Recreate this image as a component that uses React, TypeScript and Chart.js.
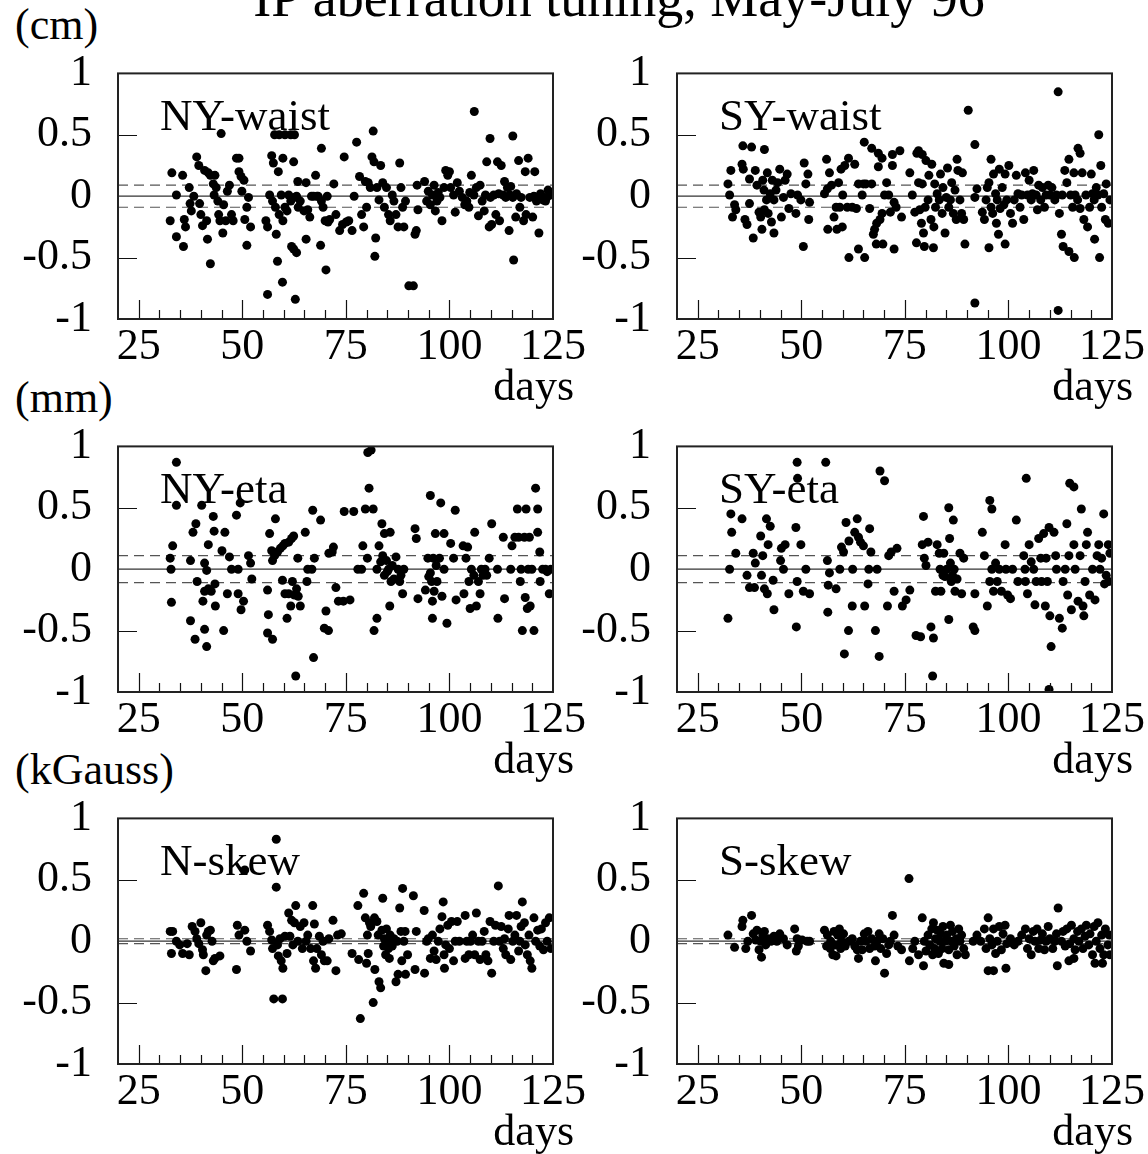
import React, { useEffect, useRef } from "react";
import { Chart, registerables } from "chart.js";

Chart.register(...registerables);

// ---------- axes ----------
const X_MIN = 20;
const X_MAX = 125;
const Y_MIN = -1;
const Y_MAX = 1;
const xTickValues = [25, 50, 75, 100, 125];
const xMajorInnerTicks = [25, 50, 75, 100];
const xMinorInnerTicks = [30, 35, 40, 45, 55, 60, 65, 70, 80, 85, 90, 95, 105, 110, 115, 120];
const yTickValues = [-1, -0.5, 0, 0.5, 1];
const yInnerTicks = [-0.5, 0.5];

// ---------- text ----------
const chartTitle = "IP aberration tuning, May-July 96";
const rowUnits = ["(cm)", "(mm)", "(kGauss)"];
const panelNames = ["NY-waist", "SY-waist", "NY-eta", "SY-eta", "N-skew", "S-skew"];
const xAxisName = "days";

// ---------- tolerance bands (dashed lines at +/- band) ----------
const bandHalfWidths = [0.09, 0.09, 0.11, 0.11, 0.02, 0.02];

// ---------- data: [day, value] ----------
const nyWaist: [number, number][] = [
  [106, 0.69], [44.9, 0.51], [57.8, 0.5], [58.9, 0.5], [60.3, 0.5], [61.7, 0.5], [62.6, 0.5], [81.6, 0.53], [77.6, 0.44], [69.1, 0.39],
  [109.8, 0.47], [115.3, 0.49], [115.5, -0.52], [42.3, -0.55], [58.5, -0.53], [56.1, -0.8], [59.7, -0.7], [62.8, -0.84], [70.2, -0.6], [90.2, -0.73],
  [91.3, -0.73], [82, -0.49], [82.2, -0.34], [65.4, -0.35], [62.4, -0.43], [63.1, -0.46], [61.9, -0.41], [68.9, -0.4], [51.1, -0.4], [45.3, -0.3],
  [41.6, -0.35], [35.8, -0.41], [34.1, -0.33], [32.6, -0.2], [92, -0.28], [121.6, -0.3], [114.4, -0.28],
  [33, 0.19], [34.1, 0.01], [35.6, 0.17], [36, -0.19], [36.3, -0.25], [37.2, 0.07], [37.4, -0.06], [37.7, -0.12], [38.3, 0], [39, 0.32],
  [39.5, 0.25], [39.7, -0.06], [40, -0.15], [40.4, -0.24], [40.9, 0.21], [41.4, -0.2], [41.8, 0.19], [42.3, 0.17], [43, 0.1], [43.2, 0.01],
  [43.4, 0.17], [43.7, 0.07], [44.1, -0.04], [44.3, -0.15], [44.6, -0.2], [45.5, -0.07], [46, -0.2], [46.4, 0.04], [46.9, 0.09], [47.4, -0.15],
  [47.8, -0.2], [48.6, 0.31], [49.2, 0.31], [49.2, 0.2], [49.7, 0.16], [49.9, 0.04], [50.4, 0.13], [50.6, -0.19], [51.1, -0.09], [51.5, -0.01],
  [52, -0.25],
  [55.7, -0.2], [56.1, -0.25], [56.6, 0.01], [57.1, 0.33], [57.3, -0.04], [57.5, 0.27], [58, -0.09], [58.2, -0.31], [58.7, 0.2], [58.9, -0.15],
  [59.4, 0.01], [59.8, 0.31], [59.8, -0.2], [60.3, -0.09], [60.8, -0.12], [61.2, 0.01], [61.7, -0.04], [62.4, 0.28], [62.6, -0.01], [63.1, 0],
  [63.4, 0.12], [63.5, -0.09], [64, -0.04], [64.9, -0.12], [65.4, 0.11], [65.8, -0.11], [66.3, -0.17], [66.7, 0], [67.2, 0], [67.7, 0.17],
  [68, 0], [68.3, 0], [69.1, -0.04], [69.5, -0.09], [70, -0.2], [70.5, 0], [70.7, -0.21], [71.1, -0.19], [72.1, 0.1], [72.6, -0.15],
  [73.5, -0.28], [74.2, -0.23], [74.6, 0.32], [75.1, -0.21], [75.7, -0.2], [76.5, -0.28], [77, 0],
  [78.3, 0.16], [78.8, -0.15], [79.3, -0.25], [79.7, 0.12], [80, -0.09], [80.4, 0.11], [80.9, 0.07], [81.3, 0.32], [81.8, 0.28], [82.5, 0.07],
  [83, -0.03], [83.4, 0.25], [83.9, 0.11], [84.3, -0.09], [84.8, 0.07], [85.3, -0.15], [85.7, -0.2], [86.2, 0.01], [86.6, -0.04], [87.1, -0.15],
  [87.6, -0.25], [88, 0.27], [88.3, 0.07], [88.7, -0.09], [89, -0.25], [89.4, -0.04], [91.7, -0.31], [92.2, 0.09], [92.4, -0.11], [94, 0.12],
  [94.5, -0.04], [94.9, 0.04], [95.4, -0.07], [95.9, 0.01], [96.3, 0.09], [96.6, -0.12], [97, -0.04], [97.3, 0.03], [97.7, -0.01], [98.2, -0.2],
  [98.7, 0.07],
  [99.1, 0.21], [99.6, 0.17], [100, 0.2], [100.3, 0.07], [101, 0.01], [101.4, -0.13], [101.9, 0.11], [102.4, 0.04], [103.1, -0.01], [103.7, -0.07],
  [104.2, -0.04], [104.7, -0.09], [105.3, 0.17], [105.9, 0.01], [106.5, 0.07], [107, -0.16], [107.4, 0.09], [107.9, -0.04], [108.4, -0.12], [109, 0.28],
  [109.6, -0.25], [109.9, -0.01], [110.2, -0.23], [110.7, 0.01], [111.2, -0.15], [111.6, 0.28], [112.1, -0.2], [112.5, 0.25], [113, 0.01], [113.3, 0.12],
  [113.6, -0.01], [114, 0.07], [114.6, 0.01], [114.8, 0.08], [115.3, -0.01], [116, -0.17], [116.7, 0.29], [117, -0.09], [117.3, -0.01], [117.9, -0.2],
  [118.3, 0.2], [118.5, -0.15], [119, 0.31], [119.4, -0.01], [120.1, -0.17], [120.6, 0.2], [121, -0.04], [121.7, -0.01], [122.5, -0.03], [123.2, -0.04],
  [123.8, 0.05], [124.5, 0.01], [120.4, 0], [122, 0.02], [123.5, -0.01], [124.8, 0.03], [116.2, 0.02], [111.9, 0.02], [108.7, 0.01], [104.9, 0.03],
];

const syWaist: [number, number][] = [
  [112, 0.85], [90.3, 0.7], [91.9, 0.42], [91.9, -0.87], [112, -0.93], [121.8, 0.5], [122, -0.5], [116.8, 0.39], [117.3, 0.35], [50.5, -0.41],
  [61.5, -0.5], [63.8, -0.43], [65.3, -0.5], [65.2, 0.44], [67, 0.39], [68.6, 0.35], [69.5, 0.31], [72, 0.34], [73.8, 0.37], [35.9, 0.41],
  [38, 0.4], [41.1, 0.38], [78.3, 0.37], [79.2, 0.34], [87.6, 0.3], [95.8, 0.3], [112.8, -0.31], [113.2, -0.41], [114.6, -0.45], [115.9, -0.5],
  [120.8, -0.35], [72.4, -0.43], [69.7, -0.39], [68.1, -0.39], [67.4, -0.31], [77.8, -0.38], [79.7, -0.41], [81.9, -0.42], [89.5, -0.39], [95.3, -0.42],
  [99.2, -0.39], [97.6, -0.31], [38.4, -0.34], [40.5, -0.27], [43.4, -0.3], [56.4, -0.27], [58.6, -0.27], [59.9, -0.25],
  [32.3, 0.1], [32.7, 0.01], [33, 0.21], [33.4, -0.17], [33.9, -0.07], [34.2, -0.11], [35.7, 0.26], [36, 0.22], [36.4, -0.19], [36.9, -0.23],
  [37.5, -0.06], [37.5, 0.14], [38.9, 0.21], [39.3, 0.09], [39.8, -0.13], [40.2, -0.17], [40.7, 0.13], [41, 0.05], [41.1, -0.11], [41.6, -0.03],
  [41.8, 0.19], [42, -0.14], [42.5, 0.02], [42.8, -0.21], [43, 0.13], [43.4, -0.03], [43.9, 0.05], [44.3, 0.11], [44.8, 0.22], [45.2, -0.17],
  [45.7, -0.01], [46.1, 0.13], [46.6, 0.18], [47, -0.1], [47.5, 0.02], [48.7, -0.14], [49.1, 0.01], [49.9, -0.03], [50.7, 0.27], [51.1, 0.1],
  [51.6, 0.18], [51.8, -0.19], [52, -0.05],
  [55.6, 0.02], [56.1, 0.3], [56.3, 0.06], [56.8, 0.19], [57.3, 0.09], [57.9, -0.17], [58.4, -0.09], [59, 0.11], [59.3, -0.09], [59.6, 0.22],
  [60, 0.01], [60.5, 0.25], [61.1, -0.09], [61.4, 0.31], [62.3, -0.09], [62.9, 0.26], [63.3, -0.1], [63.8, 0.1], [64.7, 0.01], [65, 0.1],
  [65.6, 0.1], [66.5, -0.1], [67, 0.1], [67.7, -0.27], [68.2, -0.22], [68.6, 0.24], [69, -0.19], [69.5, -0.14], [70.1, 0.01], [70.6, 0.11],
  [71.1, 0.01], [71.5, -0.13], [72, 0.25], [72.4, -0.05], [72.9, -0.09], [74.2, -0.17], [76.2, 0.19], [76.8, 0.01], [77.4, -0.13], [77.9, 0.35],
  [78.3, 0.11], [78.6, -0.11], [79, -0.22], [79.2, 0.1], [79.5, -0.3], [79.9, -0.09], [80.1, 0.29], [80.6, -0.03], [80.8, 0.17], [81.3, -0.19],
  [81.5, 0.26], [82, -0.25], [82.2, 0.1],
  [82.4, -0.09], [82.8, 0.02], [83.3, -0.03], [83.6, 0.18], [84, -0.14], [84.2, 0.07], [84.7, -0.3], [85, -0.01], [85.3, 0.23], [85.6, -0.09],
  [86, -0.03], [86.3, 0.11], [86.7, -0.14], [87.1, 0.05], [87.4, -0.19], [87.8, 0.21], [88.3, -0.03], [88.7, -0.14], [88.9, 0.19], [89.2, -0.19],
  [91.9, -0.01], [92.4, 0.06], [93.7, -0.13], [94.2, -0.19], [94.6, -0.03], [94.9, 0.07], [95.3, 0.11], [95.8, -0.09], [96.2, -0.14], [96.4, 0.18],
  [96.9, 0.02], [97.1, -0.22], [97.3, -0.03], [97.8, 0.22], [98, -0.1], [98.5, 0.07], [98.9, -0.07], [99.2, 0.18], [99.6, -0.03], [100.1, 0.25],
  [100.5, -0.14], [101, -0.22], [101.4, -0.03],
  [101.9, 0.17], [102.3, 0.02], [102.8, -0.09], [103.2, 0.01], [103.7, -0.19], [104.1, 0.19], [104.6, 0.01], [105, 0.13], [105.5, -0.03], [105.8, 0.02],
  [106.1, 0.21], [106.7, 0.01], [107, -0.11], [107.3, 0.09], [107.8, -0.03], [108.2, 0.07], [108.7, -0.09], [109.1, 0.01], [109.6, 0.09], [110, 0.01],
  [110.5, 0.07], [111.2, -0.03], [111.6, 0.01], [112.3, -0.14], [113, 0.01], [113.6, 0.21], [114.1, 0.11], [114.6, 0.3], [115, 0.01], [115.5, -0.09],
  [115.8, 0.19], [116.1, 0.01], [116.7, -0.03], [117.3, -0.1], [117.8, 0.19], [118.2, -0.19], [118.7, 0.01], [119.1, -0.25], [119.6, -0.09], [120, 0.18],
  [120.3, 0.02], [120.7, -0.03], [121.2, 0.07], [121.6, 0.01], [122.3, 0.25], [122.5, -0.09], [123, 0.02], [123.4, -0.19], [123.6, 0.1], [124.1, -0.22],
  [124.5, -0.03],
];

const nyEta: [number, number][] = [
  [34.1, 0.87], [34.1, 0.52], [33.2, 0.19], [32.6, 0.09], [32.8, 0], [32.9, -0.27], [37.5, 0.07], [38.1, 0.3], [38.8, 0.37], [39.1, -0.1],
  [37.5, -0.42], [38.6, -0.57], [40.9, -0.49], [41.4, -0.63], [40.2, 0.52], [40.9, 0.05], [41.4, -0.01], [41.8, 0.2], [40.9, -0.18], [40.5, -0.26],
  [41.8, -0.16], [42.5, -0.18], [43, 0.43], [43.2, 0.31], [43.4, -0.12], [43.5, -0.3], [45.1, 0.15], [45.5, -0.5], [45.8, 0.3], [46.4, -0.2],
  [46.9, 0.1], [47.4, 0], [48.6, 0.44], [49.5, 0.54], [49, 0], [49, -0.2], [49.7, -0.33], [50.3, -0.26], [51.5, 0.11], [52, 0.05],
  [52.3, -0.08],
  [56.1, -0.17], [56.3, -0.37], [56.1, -0.52], [57.3, -0.57], [56.6, 0.29], [57.1, 0.15], [57.3, 0.07], [58, 0.41], [57.8, 0.11], [58.5, 0.14],
  [59.2, 0.17], [59.8, 0.19], [60.3, 0.21], [61.2, 0.22], [61.9, 0.25], [62.4, 0.27], [59.7, -0.09], [60.3, -0.2], [60.8, -0.4], [61.2, -0.2],
  [61.7, -0.3], [62.1, -0.1], [62.6, -0.21], [62.9, -0.87], [63.4, 0.09], [63.5, -0.22], [64, -0.3], [63.1, -0.16], [65.2, 0.3], [65.6, -0.1],
  [65.8, 0], [66.8, 0], [67, 0.48], [67.4, 0.09], [67.2, -0.72], [68.9, 0.4], [69.8, -0.48], [70.2, -0.34], [70.8, -0.5], [70.9, 0.13],
  [71.7, 0.14], [72, 0.18], [72.6, -0.15], [73.2, -0.26], [74.4, -0.26], [74.6, 0.47], [76, -0.25], [76.9, 0.47], [77.9, 0], [78.8, 0],
  [79.1, 0.19], [79.7, 0.49], [80.2, 0.09], [80.3, 0.95], [81.1, 0.97], [80.6, 0.66], [81.6, 0.49], [81.8, -0.5], [82.5, -0.4], [83.7, 0.37],
  [83, 0.19], [84.3, 0.29], [85.7, 0.3], [83.4, 0.06], [83.9, 0.11], [82.5, 0], [84.3, -0.05], [84.8, 0.07], [85, -0.02], [85.3, 0],
  [85.6, -0.3], [85.9, -0.1], [86.2, 0.03], [86.6, -0.08], [87.1, 0.1], [87.6, 0], [88, -0.1], [88.3, -0.05], [88.7, -0.2], [89, 0],
  [91.7, 0.33], [92, 0.25], [92.4, -0.24], [94.2, -0.17], [94.8, 0.09], [95, -0.06], [95.4, 0.6], [95.4, -0.03], [95.7, -0.1], [95.9, -0.26],
  [95.9, -0.4], [96.1, 0.09], [96.3, -0.18], [96.6, 0.29], [96.8, 0.03], [97, -0.1], [97.6, 0.09], [97.9, 0.54], [98.2, -0.22], [98.7, 0.29],
  [98.7, 0], [99.4, -0.44], [100.3, 0.21], [101, 0.09], [101.4, 0.48], [101.6, -0.25], [103.3, 0.19], [103.5, -0.2], [104, 0.09], [104.4, 0.18],
  [104.7, -0.1], [105, -0.32], [105.3, 0], [105.9, -0.05], [106.1, 0.3], [106.5, -0.3], [107, -0.1], [107.4, -0.2], [107.7, 0], [108.1, -0.05],
  [108.6, 0], [109, -0.05], [109.6, 0.09], [110.2, 0.37], [111.6, 0], [111.7, -0.4], [113, 0.26], [113.3, -0.24], [114.8, 0], [115.1, 0.19],
  [115.8, 0.26], [116.4, 0.49], [116.7, 0.26], [117.1, -0.1], [117.3, 0], [117.6, -0.5], [118.1, 0.26], [118.3, -0.23], [118.5, 0.49], [118.8, -0.32],
  [119, 0], [119.3, 0.26], [119.5, -0.3], [119.9, 0], [120.4, -0.5], [120.8, 0.66], [121.3, 0.49], [121.3, 0.3], [121.8, 0.14], [121.9, -0.1],
  [122.5, 0], [123.2, 0], [123.6, -0.02], [124.1, -0.2], [124.5, 0],
];

const syEta: [number, number][] = [
  [33, 0.45], [33.2, 0.3], [32.7, 0], [32.3, -0.4], [34.2, 0.13], [35.7, 0.41], [36.9, -0.05], [37.5, -0.15], [38.4, 0.13], [38.9, 0.05],
  [38.7, -0.15], [40.2, 0.27], [40.4, -0.05], [40.7, 0.11], [41.1, -0.16], [41.6, 0.41], [41.8, -0.2], [42, 0.2], [42.5, 0.35], [43.2, -0.09],
  [43.4, -0.33], [45, 0.07], [45.2, 0.17], [45.7, 0], [46.1, 0.2], [47, -0.2], [48.7, 0.34], [49, 0.87], [49.1, 0.74], [49, -0.1],
  [48.8, -0.47], [49.9, 0.2], [50.5, -0.18], [51.1, 0], [52, -0.2],
  [55.9, 0.87], [56.3, 0.07], [56.4, -0.35], [56.8, -0.03], [56.5, -0.13], [58.4, -0.16], [59.3, 0], [59.7, 0.18], [60.2, 0.14], [60.4, -0.69],
  [60.8, 0.38], [61.4, -0.5], [61.5, 0.23], [62.3, -0.3], [62.4, 0], [62.9, 0.3], [63.5, 0.41], [63.8, 0.26], [64.3, 0.22], [65, 0.19],
  [65.3, -0.3], [66.1, -0.12], [66.3, 0], [66.5, 0.33], [66.8, 0.14], [67.9, -0.5], [68.3, 0], [69, 0.8], [68.8, -0.71], [70.1, 0.72],
  [70.8, -0.3], [71.1, 0.11], [71.7, 0.14], [72.4, -0.18], [73.1, 0.17], [74.4, -0.3], [75.3, -0.25], [76.2, -0.17], [77.7, -0.54], [78.8, -0.55],
  [79.2, 0.2], [79.5, 0.43], [79.7, 0.09], [80.1, 0.03], [80.6, 0.22], [81.3, -0.47], [81.7, -0.87], [81.9, -0.56], [82.4, -0.18], [82.8, 0.2],
  [83.3, 0.13], [83.5, 0], [83.7, -0.18], [84.2, -0.05], [84.4, 0.13], [84.7, -0.06], [85.1, 0], [85.6, 0.5], [85.6, -0.41], [85.8, 0.25],
  [86, 0.05], [86.2, -0.1], [86.5, -0.05], [86.7, 0.4], [86.9, 0], [87.1, -0.18], [87.6, -0.08], [88.3, 0.13], [88.7, -0.2], [89.2, 0.09],
  [91.5, -0.47], [91.9, -0.5], [91.9, -0.2], [93.7, 0.3], [94.2, 0.11], [94.9, -0.3], [95.5, 0.56], [96, 0.49], [95.5, -0.1], [96, 0],
  [96.4, -0.18], [96.9, 0.05], [97.3, -0.1], [97.8, 0], [98.3, -0.18], [99.2, 0.2], [99.4, 0], [99.8, -0.21], [100.5, -0.24], [101, 0],
  [101.9, 0.4], [102.3, -0.1], [103.7, 0.11], [104, 0], [104.1, -0.1], [104.3, 0.74], [104.6, -0.2], [105, 0.2], [105.5, 0.06], [106.1, 0],
  [106.4, -0.29], [106.7, -0.1], [107.3, 0.25], [107.8, 0.09], [108, -0.1], [108.5, 0.29], [108.9, -0.3], [109.1, 0.09], [109.4, -0.1], [109.8, 0.34],
  [110, -0.38], [110.3, -0.63], [109.8, -0.98], [111, 0.3], [111.4, 0.11], [111.6, 0], [112.3, -0.4], [113, -0.48], [113.2, -0.1], [113.7, 0],
  [114.1, 0.37], [114.3, -0.21], [114.6, 0.11], [114.8, 0.7], [115.8, 0.67], [115.2, -0.33], [115.8, 0.2], [116.1, 0], [116.8, -0.26], [117.3, 0.11],
  [117.6, 0.49], [118, -0.3], [118.2, -0.38], [118.5, -0.1], [118.8, 0.2], [119.1, 0.3], [119.6, -0.21], [120.3, 0], [120.9, -0.25], [121.4, 0.11],
  [121.8, 0.2], [122.1, 0], [122.5, 0.09], [123, 0.45], [123.2, -0.12], [123.6, -0.05], [124.1, 0.2], [124.5, 0.13], [124.2, -0.1],
];

const nSkew: [number, number][] = [
  [32.6, 0.08], [32.9, -0.1], [33.2, 0.08], [34.1, 0], [34.9, -0.03], [35.6, -0.1], [36.7, -0.02], [37.2, -0.11], [37.9, 0.12], [38.6, 0.08],
  [39, 0.02], [39.5, -0.02], [40, 0.15], [40.4, -0.07], [40.6, -0.11], [41.2, -0.24], [41.4, 0.05], [41.8, 0.08], [42.3, 0.09], [42.7, 0],
  [43, -0.16], [43.4, -0.14], [44.6, -0.12], [48.8, 0.13], [48.6, -0.23], [49.2, 0.05], [50.6, 0.09], [51.1, 0], [52, -0.08], [50.6, 0.58],
  [56.1, 0.13], [56.6, 0.08], [57.1, 0.01], [57.3, -0.06], [57.6, -0.47], [58.2, 0.83], [58.2, 0.44], [58.5, -0.03], [58.7, -0.12], [59.1, 0.02],
  [59.4, -0.16], [59.7, -0.47], [59.8, -0.22], [60.3, 0.04], [60.8, -0.1], [61.2, 0.23], [61.5, 0.04], [61.9, 0.17], [62.2, -0.03], [62.6, 0.15],
  [62.9, 0.29], [63.4, 0], [64, 0.12], [64.5, -0.06], [64.9, 0.15], [65.4, 0], [65.8, 0.05], [66.5, -0.06], [67, 0.29], [67.2, -0.16],
  [67.4, 0.14], [67.7, -0.22], [68, -0.06], [68.6, 0.04], [69.1, -0.11], [69.5, 0], [69.8, -0.16], [70.5, -0.16], [70.9, 0.02], [71.9, 0.17],
  [72.6, -0.24], [73, 0.05], [73.9, 0.06],
  [76.5, -0.1], [77.9, 0.29], [78.1, -0.15], [78.5, -0.63], [79.3, 0.39], [79.7, 0.19], [80, -0.18], [80.2, 0.05], [80.4, -0.1], [80.7, 0.15],
  [81, 0.12], [81.6, -0.5], [81.9, 0.19], [82, -0.23], [82.5, 0.16], [82.8, 0.05], [83, -0.33], [83.4, -0.38], [83.7, 0.09], [83.9, 0.35],
  [84.1, -0.04], [84.3, 0.02], [84.6, -0.11], [84.8, 0.1], [85, 0], [85.3, -0.06], [85.5, -0.14], [85.7, 0.05], [86.2, -0.04], [86.6, 0.02],
  [87.1, -0.33], [87.4, 0], [87.6, -0.27], [88, 0.27], [88.3, 0.08], [88.5, -0.16], [88.7, 0.43], [89, 0], [89.3, 0.08], [89.4, -0.27],
  [89.9, -0.11], [91.3, 0.37], [91.7, -0.23], [92, 0.08], [93.9, 0.25], [94, -0.26], [94.5, 0], [94.9, 0.02], [95.4, -0.14], [95.9, 0.05],
  [96.3, -0.08], [96.8, -0.15], [97.3, 0], [97.7, 0.1], [98.2, 0.2], [98.5, 0.32], [98.7, -0.11], [98.8, -0.22], [99.1, -0.03], [99.6, 0.13],
  [100, -0.06], [100.5, 0.16], [101, -0.16], [101.4, 0], [101.9, 0.16], [102.4, 0], [103.8, 0.21], [103.8, -0.14], [104.2, 0], [104.7, -0.11],
  [105.1, 0], [105.6, 0.05], [106.1, -0.11], [106.5, 0.23], [107, 0], [107.4, -0.15], [107.9, 0], [108.4, 0.08], [108.8, -0.11], [109.3, -0.16],
  [109.8, 0.16], [110.2, -0.26], [110.7, 0], [111.1, 0.13], [111.8, 0.45], [112.1, 0], [112.5, 0.12], [113, -0.06], [113.3, 0.02], [113.6, -0.11],
  [114.2, 0.1], [114.4, 0.21], [114.8, -0.15], [115.3, 0], [115.8, 0.05], [116.2, 0.21], [116.7, -0.08], [117, 0], [117.3, 0.12], [117.6, 0.32],
  [118.1, 0.15], [118.3, -0.03], [118.8, -0.11], [119.2, 0.05], [119.5, -0.16], [119.9, -0.22], [120.4, 0.19], [120.8, 0], [121.3, 0.09], [121.8, -0.04],
  [122.2, 0.1], [122.7, -0.07], [123.2, 0.15], [123.6, 0], [124.1, 0.19], [124.5, -0.06],
];

const sSkew: [number, number][] = [
  [76, 0.51], [112, 0.27], [72, 0.21], [79.2, 0.19], [38, 0.21], [35.9, 0.17], [35.7, 0.12], [70.1, -0.26], [67.9, -0.16], [63.8, -0.14],
  [76.1, -0.16], [79.5, -0.2], [84.4, -0.18], [85.6, -0.19], [95.1, -0.24], [96.4, -0.24], [99.4, -0.22], [111.8, -0.2], [114.6, -0.16], [115.8, -0.14],
  [120.9, -0.18], [122.7, -0.18], [40.4, -0.13], [48.8, -0.08], [58.4, -0.12],
  [32.3, 0.05], [33.9, -0.05], [36.6, -0.06], [37.1, 0], [38.4, 0.06], [39, 0.01], [39.3, 0.09], [39.8, -0.07], [40.2, 0], [40.7, 0.05],
  [41.1, 0.08], [41.4, -0.03], [42, 0.02], [42.7, 0], [43.4, 0.04], [44.1, 0], [44.8, 0.06], [45.7, 0.02], [46.6, -0.03], [48.4, 0.1],
  [49, 0.02], [49.3, -0.04], [50.2, 0.01], [51.4, 0], [52, 0],
  [55.6, 0.09], [56.1, -0.04], [56.3, 0.05], [57, -0.06], [57.1, 0], [57.6, -0.11], [57.9, 0.08], [58.3, -0.03], [58.8, 0.05], [59.2, 0.1],
  [59.5, -0.06], [59.7, 0], [60.2, 0.06], [60.6, -0.04], [61.5, 0], [62.3, 0.02], [62.9, -0.04], [63.5, -0.07], [64.3, 0], [64.7, -0.07],
  [65.2, 0.06], [65.6, 0], [66.1, 0.08], [66.5, -0.06], [67, 0.02], [67.7, -0.04], [68.3, 0], [68.8, 0.06], [69.2, -0.06], [69.7, 0.02],
  [70.6, -0.1], [71.1, -0.03], [71.5, 0], [72.4, 0.05], [73.3, -0.04], [74.2, -0.07], [76.9, -0.06], [77.4, 0], [78.3, -0.11], [79.7, 0],
  [80.1, -0.08], [80.6, 0.05], [81, -0.03], [81.5, 0.1], [81.7, -0.11], [81.9, 0.15], [82.2, -0.06], [82.4, 0.02], [82.8, 0.09], [83.1, -0.1],
  [83.5, 0], [83.7, 0.06], [84, -0.06], [84.2, 0.12], [84.7, 0], [85.1, 0.05], [85.6, -0.07], [86, 0.13], [86.2, 0], [86.5, 0.08],
  [86.9, -0.04], [87.4, 0.02], [87.6, -0.11], [88, 0.1], [88.3, 0], [88.7, 0.05], [89.2, -0.06], [89.6, -0.11], [91.5, 0], [92.4, 0.05],
  [93.3, 0], [94.2, 0.1], [94.6, -0.06], [95.1, 0.19], [95.5, 0.02], [96, -0.03], [96.4, 0.1], [96.9, -0.1], [97.3, 0], [97.8, 0.12],
  [98.3, -0.07], [98.7, 0.06], [99.2, 0.13], [99.6, -0.02], [100.5, 0.02], [101.4, -0.03], [102.3, 0], [103.2, 0.05], [104.1, 0.1], [104.6, -0.06],
  [105, 0.02], [105.5, -0.11], [106, 0.08], [106.4, 0], [106.9, 0.1], [107.3, -0.06], [107.8, 0.01], [108.2, 0.06], [108.7, -0.07], [109.1, 0],
  [109.6, 0.12], [110, 0.02], [110.7, -0.06], [111.2, 0], [111.6, 0.06], [112.8, 0], [113.2, 0.08], [113.7, -0.04], [114.1, 0.1], [114.8, -0.02],
  [115.2, 0.13], [115.8, 0.02], [116.1, -0.07], [116.7, 0.08], [117, 0], [117.6, 0.1], [118, -0.06], [118.5, 0.04], [118.8, 0.13], [119.4, -0.03],
  [119.7, 0.06], [120.3, -0.11], [120.7, 0.12], [121.2, 0], [121.6, 0.15], [122.1, -0.06], [122.5, 0.05], [123, -0.11], [123.4, 0.1], [124, -0.03],
  [124.3, 0.05], [124.5, -0.11],
];

const panelSeries = [nyWaist, syWaist, nyEta, syEta, nSkew, sSkew];

// ---------- layout (page pixels) ----------
const PLOT_W = 435;
const PLOT_H = 248;
const colPlotLeft = [118, 677];
const rowPlotTop = [71, 444, 816];
const AXIS_W = 118;
const PAD_TOP = 50;
const PAD_RIGHT = 36;
const AXIS_H = 90;
const CANVAS_W = AXIS_W + PLOT_W + PAD_RIGHT;
const CANVAS_H = PAD_TOP + PLOT_H + AXIS_H;
const SERIF = '"Liberation Serif", "Times New Roman", serif';

function makeDecorPlugin(name: string) {
  return {
    id: "panelDecor",
    beforeDatasetsDraw(chart: any) {
      const { ctx, chartArea: a } = chart;
      ctx.save();
      ctx.fillStyle = "#000";
      ctx.font = `45px ${SERIF}`;
      ctx.textAlign = "left";
      ctx.textBaseline = "alphabetic";
      ctx.fillText(name, a.left + 42, a.top + 57);
      ctx.restore();
    },
    afterDatasetsDraw(chart: any) {
      const { ctx, chartArea: a, scales } = chart;
      const x = scales.x;
      const y = scales.y;
      ctx.save();
      ctx.strokeStyle = "#111";
      ctx.lineWidth = 1.2;
      ctx.beginPath();
      for (const v of xMajorInnerTicks) {
        const px = Math.round(x.getPixelForValue(v)) + 0.5;
        ctx.moveTo(px, a.bottom);
        ctx.lineTo(px, a.bottom - 19);
      }
      for (const v of xMinorInnerTicks) {
        const px = Math.round(x.getPixelForValue(v)) + 0.5;
        ctx.moveTo(px, a.bottom);
        ctx.lineTo(px, a.bottom - 9);
      }
      for (const v of yInnerTicks) {
        const py = Math.round(y.getPixelForValue(v)) + 0.5;
        ctx.moveTo(a.left, py);
        ctx.lineTo(a.left + 19, py);
      }
      ctx.stroke();
      ctx.strokeStyle = "#222";
      ctx.lineWidth = 2;
      ctx.strokeRect(a.left, a.top, a.right - a.left, a.bottom - a.top);
      ctx.fillStyle = "#000";
      ctx.font = `44px ${SERIF}`;
      ctx.textAlign = "right";
      ctx.textBaseline = "alphabetic";
      ctx.fillText(xAxisName, a.right + 21, a.bottom + 81);
      ctx.restore();
    },
  };
}

function Panel({ index }: { index: number }) {
  const ref = useRef<HTMLCanvasElement | null>(null);
  const col = index % 2;
  const row = Math.floor(index / 2);
  const left = colPlotLeft[col] - AXIS_W;
  const top = rowPlotTop[row] - PAD_TOP;

  useEffect(() => {
    if (!ref.current) return;
    const pts = panelSeries[index].map(([d, v]) => ({ x: d, y: v }));
    const band = bandHalfWidths[index];
    const hline = (yv: number) => [
      { x: X_MIN, y: yv },
      { x: X_MAX, y: yv },
    ];
    const chart = new Chart(ref.current, {
      type: "scatter",
      data: {
        datasets: [
          {
            data: pts,
            pointRadius: 4.5,
            pointBackgroundColor: "#000",
            pointBorderWidth: 0,
            pointHoverRadius: 4.5,
            showLine: false,
          },
          {
            data: hline(0),
            showLine: true,
            borderColor: "#333",
            borderWidth: 1.2,
            pointRadius: 0,
          },
          {
            data: hline(band),
            showLine: true,
            borderColor: "#555",
            borderWidth: 1.2,
            borderDash: [10, 6],
            pointRadius: 0,
          },
          {
            data: hline(-band),
            showLine: true,
            borderColor: "#555",
            borderWidth: 1.2,
            borderDash: [10, 6],
            pointRadius: 0,
          },
        ],
      } as any,
      options: {
        responsive: false,
        animation: false,
        events: [],
        layout: { padding: { top: PAD_TOP, right: PAD_RIGHT, bottom: 0, left: 0 } },
        plugins: { legend: { display: false }, tooltip: { enabled: false }, title: { display: false } },
        scales: {
          x: {
            type: "linear",
            min: X_MIN,
            max: X_MAX,
            grid: { display: false, drawTicks: false },
            border: { display: false },
            afterBuildTicks: (axis: any) => {
              axis.ticks = xTickValues.map((v) => ({ value: v }));
            },
            afterFit: (axis: any) => {
              axis.height = AXIS_H;
            },
            ticks: {
              color: "#000",
              font: { family: SERIF, size: 44 },
              padding: 2,
              maxRotation: 0,
              autoSkip: false,
              callback: (v: any) => String(v),
            },
          },
          y: {
            type: "linear",
            min: Y_MIN,
            max: Y_MAX,
            grid: { display: false, drawTicks: false },
            border: { display: false },
            afterBuildTicks: (axis: any) => {
              axis.ticks = yTickValues.map((v) => ({ value: v }));
            },
            afterFit: (axis: any) => {
              axis.width = AXIS_W;
            },
            ticks: {
              color: "#000",
              font: { family: SERIF, size: 44 },
              padding: 26,
              autoSkip: false,
              callback: (v: any) => String(v),
            },
          },
        },
      } as any,
      plugins: [makeDecorPlugin(panelNames[index])],
    });
    return () => chart.destroy();
  }, [index]);

  return (
    <canvas
      ref={ref}
      width={CANVAS_W}
      height={CANVAS_H}
      style={{ position: "absolute", left, top, width: CANVAS_W, height: CANVAS_H }}
    />
  );
}

export default function App() {
  return (
    <div
      style={{
        position: "fixed",
        left: 0,
        top: 0,
        width: 1148,
        height: 1154,
        background: "#fff",
        overflow: "hidden",
      }}
    >
      <div
        style={{
          position: "absolute",
          left: 619,
          top: -29,
          transform: "translateX(-50%)",
          fontFamily: SERIF,
          fontSize: 54,
          lineHeight: "54px",
          whiteSpace: "nowrap",
          color: "#000",
        }}
      >
        {chartTitle}
      </div>
      {rowUnits.map((u, r) => (
        <div
          key={u}
          style={{
            position: "absolute",
            left: 15,
            top: rowPlotTop[r] - 31 - 37,
            fontFamily: SERIF,
            fontSize: 44,
            lineHeight: "44px",
            whiteSpace: "nowrap",
            color: "#000",
          }}
        >
          {u}
        </div>
      ))}
      {panelNames.map((n, i) => (
        <Panel key={n} index={i} />
      ))}
    </div>
  );
}
